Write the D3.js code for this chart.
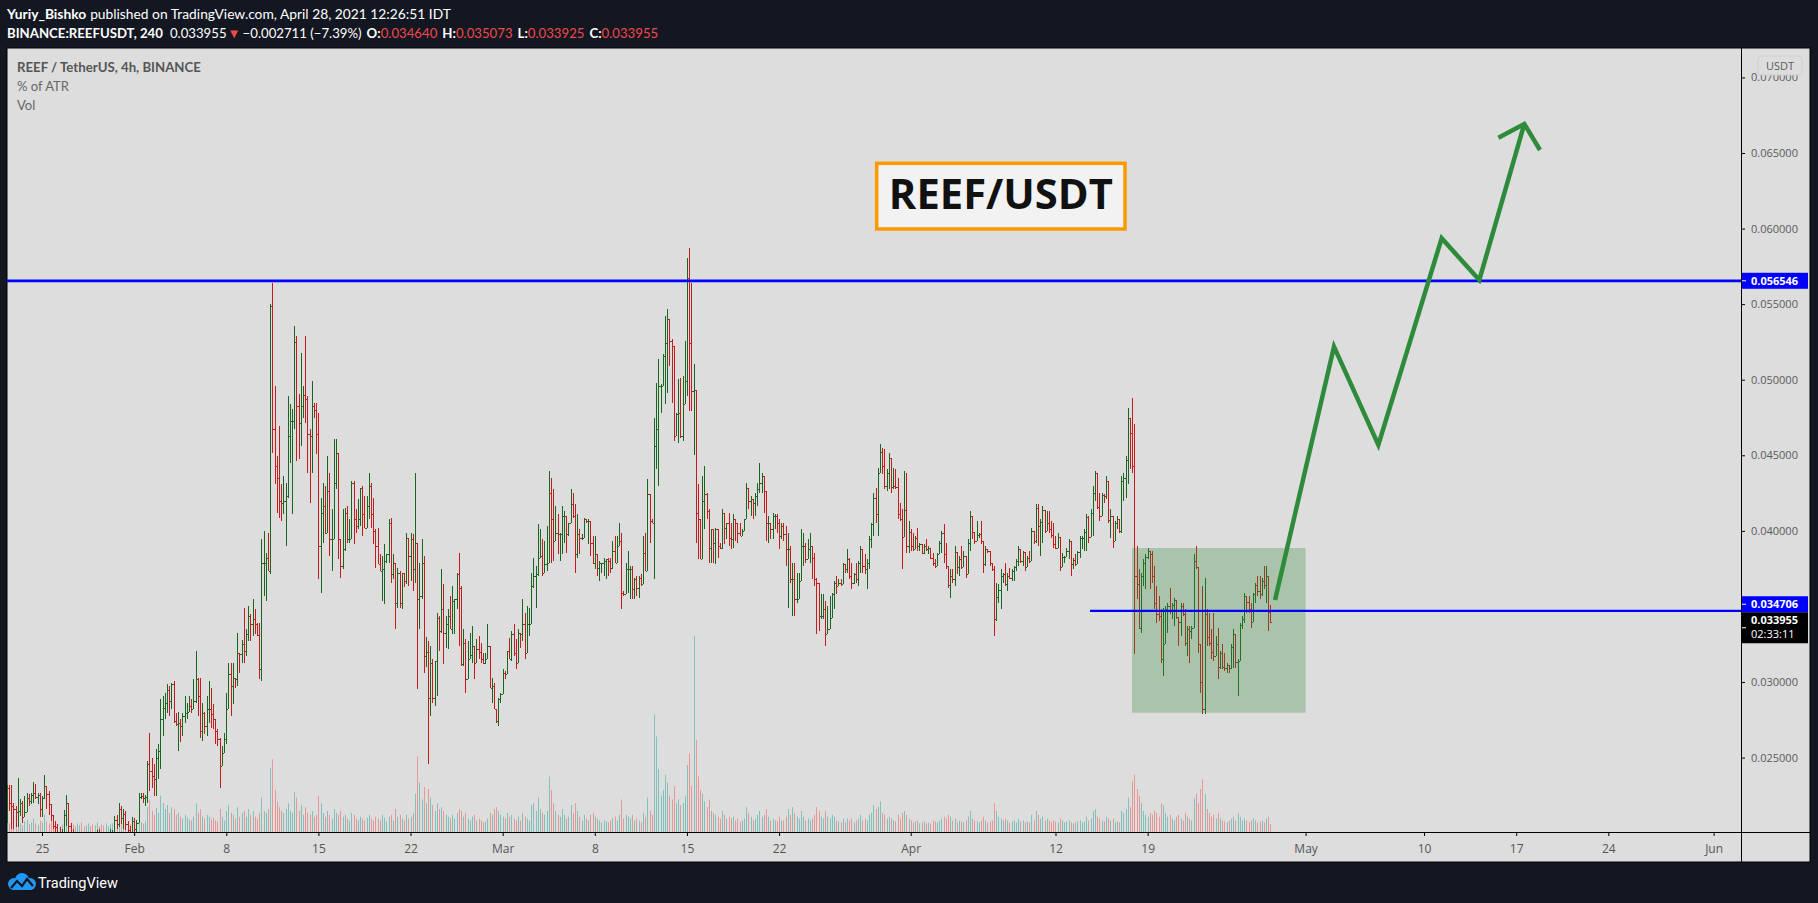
<!DOCTYPE html>
<html>
<head>
<meta charset="utf-8">
<script src="https://cdn.jsdelivr.net/npm/d3@7"></script>
<style>
  html, body { margin: 0; padding: 0; background: #131722; }
  svg { display: block; }
</style>
</head>
<body>
<svg id="chart" width="1818" height="903"></svg>
<script>
// ---------------- DATA (prices in units of 0.00001 USDT, 4h bars from 2021-01-22 08:00 UTC) ----------------
const firstBarTime = "2021-01-22T08:00:00Z";
const firstOpen = 2150;

const highs = [
2317,2320,2317,2200,2180,2363, 2224,2210,2246,2268,2260,2268, 2341,2325,2268,2268,2246,2383,
2312,2280,2191,2120,2081,2060, 2040,2030,2154,2251,2200,2070, 2030,2000,1990,2010,2000,1960,
1950,1990,2010,1990,1980,2020, 2030,2010,1990,1980,2010,2030, 2020,2114,2120,2202,2180,2158,
2150,2080,2050,2110,2100,2090, 2268,2268,2268,2250,2478,2665, 2500,2456,2555,2588,2886,2908,
2930,2986,2974,2996,3007,2798, 2804,2753,2798,2908,2864,2908, 2886,3018,3205,3029,3029,2864,
2804,2908,3007,2958,2853,2731, 2687,2632,2577,2665,2930,3128, 3128,3128,3029,3327,3194,3280,
3492,3349,3503,3448,3547,3481, 3393,3393,3944,3999,3856,3988, 5499,5642,4958,4495,4694,4308,
4363,4319,4892,4837,4804,5355, 5289,4903,5179,4958,5289,4892, 4672,4992,4848,4848,4782,4220,
4319,4297,4495,4385,4143,4606, 4606,4473,3944,4143,4154,4165, 4076,4330,4330,4143,4209,4275,
4297,4231,4231,4385,4319,4220, 4010,4021,3845,3834,3911,3845, 4076,4087,3845,3760,3757,3735,
3724,3724,3988,3856,3988,3977, 4385,3900,3790,3944,3834,3300, 3272,3239,3151,3140,3459,3437,
3746,3647,3437,3481,3570,3636, 3547,3724,3856,3636,3349,3283, 3272,3327,3371,3239,3283,3305,
3261,3190,3195,3382,3239,3029, 2996,2809,2897,2930,3084,3070, 3206,3294,3338,3382,3283,3349,
3327,3548,3459,3503,3492,3724, 3823,3768,4044,4010,3944,3933, 4033,4396,4352,4275,4165,4110,
3988,4165,4132,4010,4055,4275, 4253,4176,4110,4010,3980,4088, 4077,4077,3999,3966,3966,3812,
3801,3790,3823,3812,3823,3823, 3933,3966,3966,4055,3988,3600, 3790,3867,3768,3768,3691,3702,
3702,3713,3966,3988,4341,4242, 4077,4749,4981,5135,4970,5168, 5422,5466,5389,5267,5036,4782,
5003,5014,5025,5256,5808,5874, 5642,5102,4930,4308,4077,4363, 4430,4253,4143,4010,3922,4022,
3933,3922,4143,4121,4055,4121, 4055,4110,4077,4010,4055,4010, 4077,4319,4275,4231,4187,4253,
4319,4452,4385,4319,4187,4099, 4033,4121,4110,4110,4077,4055, 4055,4033,3988,3900,3790,3790,
3724,3724,4010,3988,3922,3944, 3988,3889,3856,3691,3581,3581, 3581,3536,3503,3570,3592,3669,
3702,3680,3680,3790,3746,3878, 3823,3790,3724,3790,3801,3900, 3878,3845,3812,3966,4055,4253,
4286,4419,4573,4551,4540,4408, 4518,4452,4419,4408,4352,4187, 4143,4396,4385,4066,4011,3989,
3966,4022,3922,3911,3911,3944, 3900,3889,3856,3812,3856,3933, 4000,4044,3922,3768,3746,3746,
3900,3790,3834,3900,3867,3790, 3944,4132,4077,3989,4066,3989, 4066,3922,3900,3878,3867,3768,
3768,3658,3647,3746,3724,3790, 3724,3757,3746,3768,3812,3900, 3867,3867,3856,3834,3867,4022,
3989,4176,4176,4077,4165,4033, 4132,4132,4066,4055,3966,3989, 3933,3856,3834,3889,3944,3850,
3823,3845,3867,3966,3966,4011, 4110,4099,4143,4297,4396,4253, 4253,4253,4242,4363,4143,4143,
4077,4066,4099,4044,4363,4385, 4496,4815,4683,4877,4705,3900, 3746,3724,3812,3845,3889,3867,
3867,3768,3636,3570,3481,3492, 3503,3526,3625,3526,3559,3526, 3426,3526,3526,3481,3371,3371,
3371,3845,3900,3746,3250,3636, 3691,3481,3459,3349,3459,3305, 3360,3206,3250,3195,3129,3100,
3250,3349,3239,3151,3393,3437, 3592,3548,3570,3526,3592,3658, 3702,3702,3691,3768,3768,3625,
3507
];

const lows = [
2070,2150,2026,2030,2040,2040, 2114,2070,2125,2170,2180,2190, 2200,2225,2190,2110,2110,2225,
2160,2120,2081,2026,1990,1970, 1950,1960,2000,2050,2000,1980, 1920,1900,1880,1920,1900,1860,
1850,1890,1930,1900,1910,1940, 1950,1920,1900,1900,1930,1960, 1950,1990,2030,2040,2060,2030,
2020,1990,1970,1990,2000,2010, 2150,2224,2200,2180,2200,2279, 2300,2246,2246,2357,2423,2643,
2753,2798,2775,2820,2731,2709, 2544,2603,2643,2731,2753,2820, 2798,2820,2860,2775,2632,2610,
2654,2643,2731,2698,2687,2588, 2577,2301,2489,2588,2588,2820, 2775,2853,2963,2974,3062,3128,
3128,3172,3272,3272,3305,3316, 3305,3018,3007,3569,3534,3735, 3713,4517,4308,4120,4087,4065,
4109,3900,4220,4451,4109,4672, 4462,4473,4562,4750,4716,4385, 4187,4385,4750,4506,3680,3591,
3922,3977,4043,3834,3735,4010, 4275,3812,3690,3746,3867,3922, 3922,4076,3911,3988,4010,4032,
3966,4021,4065,4076,4021,3911, 3757,3834,3735,3536,3514,3790, 3790,3657,3680,3349,3492,3492,
3481,3630,3646,3635,3669,3602, 3657,2952,3349,3547,3062,3100, 2456,2776,2864,2842,2908,3206,
3327,3118,3228,3217,3349,3316, 3316,3481,3239,3107,3107,2930, 3018,3151,3129,3018,3151,3151,
3129,3118,3118,3151,2963,2864, 2820,2732,2710,2864,2941,3020, 3051,3151,3140,3173,3084,3129,
3228,3272,3151,3206,3305,3382, 3625,3492,3702,3823,3702,3724, 3735,3790,3790,3801,3933,3845,
3801,3845,3922,3856,3966,4055, 4088,3724,3823,3845,3940,3955, 4055,3911,3834,3779,3746,3702,
3669,3724,3702,3680,3702,3724, 3746,3790,3790,3922,3481,3570, 3614,3592,3548,3548,3548,3570,
3559,3636,3680,3735,3790,3922, 4055,3680,4407,4297,4782,4981, 4837,4915,5091,4848,4595,4628,
4584,4617,4595,4837,4893,4793, 4793,4500,3922,3812,3812,3944, 4010,4077,3790,3790,3790,3779,
3823,3878,3878,3911,3944,3900, 3878,3889,3933,3922,3966,3977, 4010,4132,4143,4099,4077,4099,
4165,4253,4253,4121,3933,3922, 3944,3944,4010,3988,3878,3944, 3933,3768,3492,3658,3437,3437,
3525,3548,3669,3768,3790,3812, 3790,3680,3636,3316,3338,3415, 3415,3239,3327,3393,3459,3481,
3581,3647,3636,3680,3724,3724, 3680,3614,3647,3658,3636,3724, 3724,3713,3614,3746,3889,3966,
4055,3966,4385,4374,4275,4264, 4275,4253,4275,4275,4077,4066, 3746,4044,3856,3856,3867,3867,
3878,3867,3867,3845,3845,3867, 3845,3812,3768,3757,3801,3845, 3856,3790,3746,3625,3559,3658,
3636,3713,3702,3746,3790,3691, 3768,3867,3944,3911,3966,3955, 3911,3724,3768,3856,3768,3735,
3305,3404,3526,3481,3658,3636, 3603,3680,3669,3669,3735,3768, 3790,3768,3735,3768,3790,3878,
3911,3922,3900,3834,3922,3989, 4033,3989,3955,3889,3878,3922, 3735,3768,3790,3834,3812,3702,
3746,3768,3812,3823,3878,3867, 3867,3922,4011,3966,4198,4143, 4066,4154,4187,4209,4055,3955,
3889,3989,4011,3989,3989,4198, 4220,4308,4408,4380,3184,3548, 3349,3327,3636,3614,3812,3614,
3658,3481,3393,3404,3129,3040, 3305,3327,3448,3415,3371,3415, 3239,3305,3437,3239,3173,3129,
3283,3437,3746,3195,2930,2787, 2787,3239,3239,3151,3140,3239, 3018,3085,3085,3074,3062,3062,
3085,3096,3096,2908,3327,3349, 3393,3459,3459,3360,3481,3526, 3570,3548,3570,3614,3526,3338,
3393
];

const closes = [
2301,2200,2180,2160,2140,2150, 2200,2110,2140,2230,2213,2250, 2268,2240,2250,2160,2231,2312,
2257,2191,2120,2050,2040,2000, 1990,2010,2120,2200,2050,2000, 1960,1940,1950,1980,1930,1900,
1920,1970,1960,1940,1960,1990, 1980,1950,1930,1960,1990,2000, 2000,2090,2060,2158,2100,2130,
2060,2020,2000,2080,2030,2070, 2240,2246,2230,2240,2460,2412, 2380,2357,2500,2544,2753,2831,
2864,2950,2875,2990,2740,2720, 2730,2709,2775,2798,2804,2842, 2820,2875,3018,2908,2676,2798,
2709,2820,2820,2790,2753,2676, 2621,2445,2533,2621,2820,3051, 2974,3029,3018,3194,3183,3250,
3205,3316,3437,3382,3420,3382, 3310,3084,3790,3790,3823,3735, 5488,4672,4429,4352,4198,4187,
4198,4231,4628,4727,4727,5250, 4826,4716,4826,4900,4870,4639, 4628,4826,4800,4639,3900,4120,
4165,3988,4264,3944,3944,4319, 4517,3944,3768,3878,4120,3944, 3944,4319,4076,4032,4076,4286,
4109,4021,4165,4297,4109,4000, 3900,3779,3735,3746,3801,3845, 4054,3713,3790,3525,3724,3525,
3724,3668,3955,3834,3944,3746, 3922,3547,3569,3790,3172,3200, 2897,3129,2897,3140,3426,3338,
3481,3327,3382,3437,3349,3536, 3547,3713,3620,3118,3261,3018, 3151,3180,3239,3129,3217,3200,
3151,3129,3151,3239,2963,2974, 2820,2743,2886,2919,3062,3051, 3206,3151,3316,3195,3129,3327,
3316,3382,3195,3382,3382,3636, 3702,3713,3823,3834,3724,3779, 3790,4253,4077,3933,3988,3977,
3977,4099,4099,3977,4055,4176, 4099,3845,3977,3955,3955,4077, 4066,4066,3922,3790,3845,3757,
3790,3790,3801,3812,3801,3757, 3867,3790,3900,3933,3592,3581, 3746,3746,3746,3614,3680,3625,
3691,3647,3856,3735,4242,4066, 4055,4562,4672,4959,4959,5157, 5245,5400,5256,5223,4628,4771,
4782,4628,4837,4992,5675,5245, 4926,4930,4121,4077,3812,4198, 4242,4132,3889,4010,3922,4010,
3900,3889,4121,4022,4055,3955, 3944,4077,4055,3988,3966,3999, 4077,4286,4198,4209,4187,4231,
4275,4319,4363,4264,4055,4055, 4010,4099,4099,4055,3966,4033, 3977,3878,3878,3680,3680,3548,
3548,3669,3900,3900,3812,3878, 3900,3823,3680,3658,3437,3437, 3481,3316,3349,3426,3581,3658,
3636,3658,3647,3779,3746,3812, 3702,3658,3713,3680,3790,3878, 3770,3746,3790,3944,4044,4220,
4110,4380,4520,4430,4300,4380, 4480,4290,4300,4290,4110,4080, 3960,4140,3900,3990,3900,3880,
3955,3900,3911,3856,3900,3878, 3889,3823,3790,3768,3845,3922, 3989,3850,3770,3640,3700,3680,
3860,3760,3812,3760,3834,3713, 3922,4100,3990,3930,3970,3980, 3930,3780,3880,3870,3790,3746,
3420,3560,3610,3700,3713,3650, 3700,3690,3735,3760,3800,3880, 3800,3860,3760,3820,3800,4000,
3930,4150,4030,4060,4140,4000, 4050,4010,3970,3910,3890,3960, 3760,3830,3830,3870,3930,3780,
3810,3780,3860,3950,3950,3990, 4090,3960,4120,4250,4380,4160, 4100,4240,4230,4330,4070,4100,
3930,4050,4080,4000,4330,4350, 4470,4750,4650,4430,3700,3650, 3360,3700,3790,3830,3870,3850,
3700,3520,3450,3440,3150,3250, 3480,3500,3470,3510,3540,3430, 3400,3500,3450,3260,3350,3340,
3360,3800,3760,3250,3000,2820, 3450,3300,3260,3200,3170,3250, 3100,3190,3100,3090,3110,3090,
3230,3320,3130,3140,3380,3420, 3570,3530,3480,3400,3580,3640, 3600,3580,3670,3640,3700,3464,
3396
];

const volumes = [
12,9,14,8,10,22, 9,7,11,13,8,10, 14,9,7,12,10,18, 11,9,12,14,8,7, 6,8,15,18,10,7, 8,6,9,7,10,6,
7,9,6,8,7,10, 6,8,7,9,6,8, 9,14,10,16,8,11, 9,7,8,12,9,8, 14,10,9,11,26,34, 22,18,25,20,38,30,
24,28,20,26,24,18, 20,16,14,18,15,13, 12,16,30,20,24,16, 14,18,16,13,15,12, 11,24,16,12,22,28, 20,18,14,26,16,20,
22,16,24,18,22,16, 14,20,36,22,20,24, 67,76,44,32,26,22, 20,24,30,22,20,42, 36,22,28,18,26,20, 18,22,16,18,38,30,
20,16,22,18,14,24, 20,18,22,16,18,14, 12,20,18,14,12,16, 14,12,15,18,14,12, 16,14,12,18,15,11, 16,18,12,24,16,18,
14,12,18,14,16,20, 40,79,52,34,47,30, 45,36,28,22,30,24, 26,22,18,16,14,18, 14,20,24,22,16,20, 14,12,16,18,12,14,
12,10,11,14,20,18, 24,26,22,18,16,14, 20,16,18,14,12,16, 12,20,16,14,12,28, 30,22,36,24,20,18, 22,58,44,30,22,18,
16,24,18,14,16,28, 20,30,22,16,12,18, 14,12,18,20,16,14, 12,10,12,11,10,12, 14,16,12,18,34,14, 18,16,14,18,12,14,
12,10,20,16,36,22, 18,123,100,66,38,44, 60,52,38,34,48,30, 34,28,30,38,70,82, 48,205,96,58,44,40, 32,26,34,22,20,18,
16,14,22,18,14,16, 14,16,12,14,11,12, 14,26,20,16,12,14, 18,22,16,18,24,16, 12,14,12,11,16,12, 12,16,24,18,26,20,
16,14,22,16,12,14, 12,14,18,26,22,16, 14,22,16,14,18,16, 12,11,10,14,10,14, 12,14,10,12,14,18, 12,14,12,18,20,28,
24,26,32,20,18,14, 16,14,12,11,18,14, 20,22,18,14,12,10, 11,12,9,10,11,9, 10,9,12,11,10,12, 14,16,14,18,16,12,
14,10,12,11,10,12, 16,22,14,12,11,10, 12,16,12,10,11,12, 30,22,16,14,12,14, 12,10,11,12,10,14, 11,12,10,11,10,18,
12,22,18,14,16,12, 14,12,10,12,11,10, 14,12,10,11,12,10, 9,10,11,12,10,11, 16,12,14,22,24,16, 14,12,11,16,14,12,
14,10,11,10,22,20, 24,36,26,53,60,45, 38,30,22,18,16,20, 18,22,20,16,30,28, 20,16,18,14,12,16, 18,14,12,20,16,14,
12,35,40,30,45,55, 40,24,20,16,18,14, 20,14,12,11,10,12, 14,16,12,20,16,12, 14,12,10,12,14,12, 10,11,12,10,14,16,
8
];

const priceTicks = [0.025, 0.030, 0.035, 0.040, 0.045, 0.050, 0.055, 0.060, 0.065, 0.070];
const timeTickDates = ["2021-01-25","2021-02-01","2021-02-08","2021-02-15","2021-02-22","2021-03-01","2021-03-08",
  "2021-03-15","2021-03-22","2021-04-01","2021-04-12","2021-04-19","2021-05-01","2021-05-10","2021-05-17","2021-05-24","2021-06-01"];
const timeTickLabels = ["25","Feb","8","15","22","Mar","8","15","22","Apr","12","19","May","10","17","24","Jun"];

// drawings (time, price)
const resistanceLevel = 0.056546;
const supportLevel = 0.034706;
const supportStart = "2021-04-14T15:00:00Z";
const rangeBox = { t0: "2021-04-17T19:30:00Z", t1: "2021-05-01T00:00:00Z", p0: 0.027971, p1: 0.038867 };
const titleBox = { t0: "2021-03-29T10:00:00Z", t1: "2021-04-17T06:43:00Z", p0: 0.059972, p1: 0.064319 };
const forecastTimes = ["2021-04-28T16:19:00Z","2021-05-03T03:50:00Z","2021-05-06T12:43:00Z","2021-05-11T08:10:00Z","2021-05-14T04:48:00Z","2021-05-17T14:53:00Z"];
const forecastPrices = [0.035427, 0.052185, 0.045681, 0.059357, 0.056598, 0.066919];
const arrowHeadTimes = ["2021-05-15T15:36:00Z","2021-05-17T14:53:00Z","2021-05-18T19:26:00Z"];
const arrowHeadPrices = [0.066012, 0.066919, 0.065199];

const lastPrice = 0.033955;
const countdown = "02:33:11";

if (highs.length !== closes.length || lows.length !== closes.length || volumes.length !== closes.length) {
  throw new Error("length mismatch " + highs.length + " " + lows.length + " " + closes.length + " " + volumes.length);
}

// ---------------- LAYOUT ----------------
const svg = d3.select("#chart");
const panel = { left: 7, top: 48, right: 1810, bottom: 862 };
const plot = { left: 7, top: 48, right: 1741, bottom: 832 };
const FONT = "'Open Sans', 'Noto Sans', sans-serif";
const HFONT = "Lato, 'Open Sans', sans-serif";
const UP = "#18661f", DOWN = "#c81a1a";

const x = d3.scaleUtc()
  .domain([new Date(Date.UTC(2021, 0, 25)), new Date(Date.UTC(2021, 5, 1))])
  .range([42, 1713.6]);
const y = d3.scaleLinear().domain([0.025, 0.065]).range([757.6, 153]);
const vy = d3.scaleLinear().domain([0, d3.max(volumes)]).range([plot.bottom, plot.bottom - 0.25 * (plot.bottom - plot.top)]);

const t0 = Date.parse(firstBarTime);
const bars = closes.map((c, i) => {
  const o = i === 0 ? firstOpen : closes[i - 1];
  return {
    t: new Date(t0 + i * 4 * 3600 * 1000),
    o: o / 1e5, c: c / 1e5,
    h: Math.max(highs[i], o, c) / 1e5,
    l: Math.min(lows[i], o, c) / 1e5,
    v: volumes[i]
  };
});

// background panel
svg.append("rect").attr("x", 0).attr("y", 0).attr("width", 1818).attr("height", 903).attr("fill", "#131722");
svg.append("rect").attr("x", panel.left).attr("y", panel.top)
  .attr("width", panel.right - panel.left).attr("height", panel.bottom - panel.top)
  .attr("fill", "#dddddd").attr("stroke", "#000").attr("stroke-width", 1);

svg.append("defs").append("clipPath").attr("id", "plotClip").append("rect")
  .attr("x", plot.left).attr("y", plot.top).attr("width", plot.right - plot.left).attr("height", plot.bottom - plot.top);

const g = svg.append("g").attr("clip-path", "url(#plotClip)");

// volume
g.append("g").selectAll("rect").data(bars).join("rect")
  .attr("x", d => Math.round(x(d.t)))
  .attr("y", d => vy(d.v))
  .attr("width", 1)
  .attr("height", d => plot.bottom - vy(d.v))
  .attr("fill", d => d.c >= d.o ? "rgba(38,166,154,0.5)" : "rgba(239,83,80,0.5)");

// OHLC bars
const barG = g.append("g").attr("shape-rendering", "crispEdges");
const bsel = barG.selectAll("g").data(bars).join("g")
  .attr("fill", d => d.c >= d.o ? UP : DOWN);
bsel.append("rect")
  .attr("x", d => Math.round(x(d.t)))
  .attr("y", d => Math.round(y(d.h)))
  .attr("width", 1)
  .attr("height", d => Math.max(1, Math.round(y(d.l)) - Math.round(y(d.h))));
bsel.append("rect")
  .attr("x", d => Math.round(x(d.t)) - 1)
  .attr("y", d => Math.round(y(d.o)))
  .attr("width", 1).attr("height", 1);
bsel.append("rect")
  .attr("x", d => Math.round(x(d.t)) + 1)
  .attr("y", d => Math.round(y(d.c)))
  .attr("width", 1).attr("height", 1);

// range box
g.append("rect")
  .attr("x", x(new Date(rangeBox.t0)))
  .attr("y", y(rangeBox.p1))
  .attr("width", x(new Date(rangeBox.t1)) - x(new Date(rangeBox.t0)))
  .attr("height", y(rangeBox.p0) - y(rangeBox.p1))
  .attr("fill", "rgba(56,142,60,0.31)");

// horizontal levels
g.append("line").attr("x1", plot.left).attr("x2", plot.right)
  .attr("y1", y(resistanceLevel)).attr("y2", y(resistanceLevel))
  .attr("stroke", "#0000ff").attr("stroke-width", 2.7);
g.append("line").attr("x1", x(new Date(supportStart))).attr("x2", plot.right)
  .attr("y1", y(supportLevel)).attr("y2", y(supportLevel))
  .attr("stroke", "#0000ff").attr("stroke-width", 2.3);

// forecast path
const line = d3.line().x(d => x(new Date(d[0]))).y(d => y(d[1]));
g.append("path").attr("d", line(forecastTimes.map((t, i) => [t, forecastPrices[i]])))
  .attr("fill", "none").attr("stroke", "#2e8b3c").attr("stroke-width", 4.5).attr("stroke-linejoin", "miter");
g.append("path").attr("d", line(arrowHeadTimes.map((t, i) => [t, arrowHeadPrices[i]])))
  .attr("fill", "none").attr("stroke", "#2e8b3c").attr("stroke-width", 4.5).attr("stroke-linejoin", "miter");

// title box
const tbx0 = x(new Date(titleBox.t0)), tbx1 = x(new Date(titleBox.t1));
const tby0 = y(titleBox.p1), tby1 = y(titleBox.p0);
g.append("rect").attr("x", tbx0).attr("y", tby0).attr("width", tbx1 - tbx0).attr("height", tby1 - tby0)
  .attr("fill", "#f2f2f2").attr("stroke", "#ff9800").attr("stroke-width", 3.5);
const title = g.append("text").attr("x", (tbx0 + tbx1) / 2).attr("y", tby1 - 20)
  .attr("text-anchor", "middle").attr("font-family", FONT).attr("font-weight", 700)
  .attr("font-size", 40).attr("fill", "#111").text("REEF/USDT");

// axes separators
svg.append("line").attr("x1", plot.right + 0.5).attr("x2", plot.right + 0.5).attr("y1", panel.top).attr("y2", panel.bottom)
  .attr("stroke", "#000").attr("stroke-width", 1);
svg.append("line").attr("x1", panel.left).attr("x2", panel.right).attr("y1", plot.bottom + 0.5).attr("y2", plot.bottom + 0.5)
  .attr("stroke", "#000").attr("stroke-width", 1);

// price axis
const yAxis = d3.axisRight(y).tickValues(priceTicks).tickFormat(d3.format(".6f")).tickSize(4).tickPadding(6);
const yg = svg.append("g").attr("transform", `translate(${plot.right},0)`).call(yAxis);
yg.select(".domain").remove();
yg.selectAll("line").attr("stroke", "#000");
yg.selectAll("text").attr("font-family", FONT).attr("font-size", 11).attr("fill", "#5a5a5a");

// time axis
const xAxis = d3.axisBottom(x).tickValues(timeTickDates.map(d => new Date(d + "T00:00:00Z")))
  .tickFormat((d, i) => timeTickLabels[i]).tickSize(4).tickPadding(8);
const xg = svg.append("g").attr("transform", `translate(0,${plot.bottom})`).call(xAxis);
xg.select(".domain").remove();
xg.selectAll("line").attr("stroke", "#000");
xg.selectAll("text").attr("font-family", FONT).attr("font-size", 12).attr("fill", "#555");

// USDT currency box
svg.append("rect").attr("x", 1758).attr("y", 56).attr("width", 44).attr("height", 19).attr("rx", 3)
  .attr("fill", "#dddddd").attr("stroke", "#cfcfcf");
svg.append("text").attr("x", 1780).attr("y", 69.5).attr("text-anchor", "middle")
  .attr("font-family", FONT).attr("font-size", 11).attr("fill", "#5a5a5a").text("USDT");

// price labels on axis
const fmt6 = d3.format(".6f");
function priceTag(yc, h, bg, lines) {
  const gg = svg.append("g");
  gg.append("rect").attr("x", plot.right + 1).attr("y", yc - h / 2).attr("width", 66).attr("height", h).attr("fill", bg);
  gg.append("line").attr("x1", plot.right + 1).attr("x2", plot.right + 5).attr("y1", yc).attr("y2", yc)
    .attr("stroke", "#fff").attr("stroke-width", 1);
  lines.forEach((l, i) => {
    gg.append("text").attr("x", plot.right + 10).attr("y", yc - h / 2 + 12 + i * 14)
      .attr("font-family", FONT).attr("font-size", 11).attr("font-weight", l.bold ? 700 : 400)
      .attr("fill", "#fff").text(l.t);
  });
}
priceTag(y(resistanceLevel), 16, "#0000ff", [{ t: fmt6(resistanceLevel), bold: true }]);
const lastY = y(lastPrice);
const blackTop = lastY - 10;
priceTag(blackTop + 15.5, 31, "#000", [{ t: fmt6(lastPrice), bold: true }, { t: countdown, bold: false }]);
priceTag(blackTop - 8, 16, "#0000ff", [{ t: fmt6(supportLevel), bold: true }]);

// legend inside panel
const lg1 = svg.append("text").attr("x", 17).attr("y", 72).attr("font-family", HFONT).attr("font-size", 13)
  .attr("font-weight", 700).attr("fill", "#555").text("REEF / TetherUS, 4h, BINANCE");
svg.append("text").attr("x", 17).attr("y", 91).attr("font-family", HFONT).attr("font-size", 13)
  .attr("fill", "#666").text("% of ATR");
svg.append("text").attr("x", 17).attr("y", 110).attr("font-family", HFONT).attr("font-size", 13)
  .attr("fill", "#666").text("Vol");

// header
const h1 = svg.append("text").attr("x", 7).attr("y", 19).attr("font-family", HFONT).attr("font-size", 13).attr("fill", "#fff");
h1.append("tspan").attr("font-weight", 700).text("Yuriy_Bishko");
h1.append("tspan").attr("dx", 4).text("published on TradingView.com, April 28, 2021 12:26:51 IDT");

const RED = "#f04a4a";
const h2 = svg.append("text").attr("x", 7).attr("y", 37.5).attr("font-family", HFONT).attr("font-size", 13).attr("fill", "#fff");
h2.append("tspan").attr("font-weight", 700).text("BINANCE:REEFUSDT, 240");
h2.append("tspan").attr("dx", 7).text("0.033955");
h2.append("tspan").attr("fill", RED).attr("dx", 1).text("▼");
h2.append("tspan").attr("dx", 2).text("−0.002711 (−7.39%)");
h2.append("tspan").attr("dx", 5).attr("font-weight", 700).text("O:");
h2.append("tspan").attr("fill", RED).text("0.034640");
h2.append("tspan").attr("dx", 5).attr("font-weight", 700).text("H:");
h2.append("tspan").attr("fill", RED).text("0.035073");
h2.append("tspan").attr("dx", 5).attr("font-weight", 700).text("L:");
h2.append("tspan").attr("fill", RED).text("0.033925");
h2.append("tspan").attr("dx", 5).attr("font-weight", 700).text("C:");
h2.append("tspan").attr("fill", RED).text("0.033955");

function fitWidth(sel, target) {
  const n = sel.node();
  const w = n.getComputedTextLength();
  const fs = parseFloat(sel.attr("font-size"));
  if (w > 0) sel.attr("font-size", fs * target / w);
}
fitWidth(h1, 440);
fitWidth(h2, 622);
fitWidth(lg1, 184);
fitWidth(title, 224);

// footer logo
const logo = svg.append("g").attr("transform", "translate(7,873)");
logo.append("circle").attr("cx", 7).attr("cy", 11).attr("r", 6).attr("fill", "#2196f3");
logo.append("circle").attr("cx", 15).attr("cy", 7).attr("r", 7).attr("fill", "#2196f3");
logo.append("circle").attr("cx", 23).attr("cy", 11).attr("r", 6).attr("fill", "#2196f3");
logo.append("rect").attr("x", 4).attr("y", 11).attr("width", 22).attr("height", 6).attr("rx", 3).attr("fill", "#2196f3");
logo.append("path").attr("d", "M4,15 L10,8 L15,13 L20,6 L26,13").attr("fill", "none")
  .attr("stroke", "#131722").attr("stroke-width", 2.2);
svg.append("text").attr("x", 38).attr("y", 888).attr("font-family", "Roboto, sans-serif").attr("font-size", 14.5)
  .attr("fill", "#fff").text("TradingView");
</script>
</body>
</html>
